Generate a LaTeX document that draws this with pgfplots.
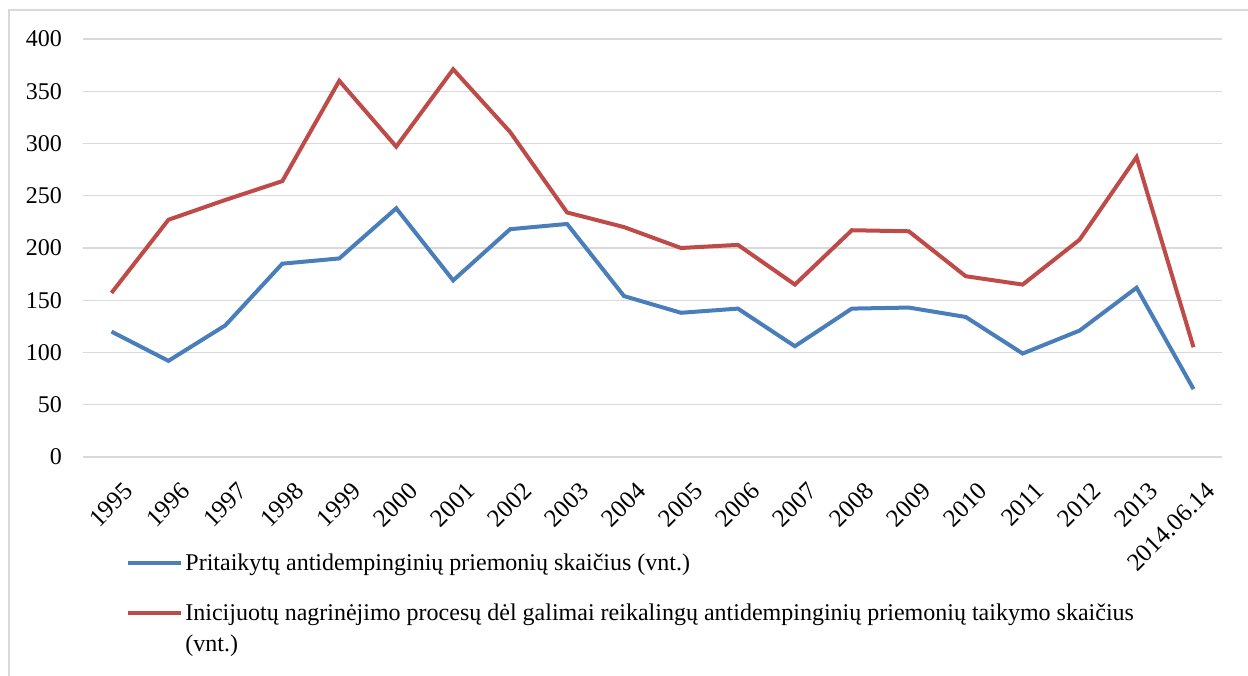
\documentclass[border=0pt]{standalone}
\usepackage{fontspec}
\setmainfont{Liberation Serif}
\usepackage{pgfplots}
\pgfplotsset{compat=1.18}
\definecolor{cblue}{HTML}{4A7EBB}
\definecolor{cred}{HTML}{BE4B48}
\definecolor{cgrid}{HTML}{D9D9D9}
\begin{document}
\begin{tikzpicture}
\useasboundingbox (0,0) rectangle (624pt,337.5pt);
\draw[cgrid, line width=0.8pt] (4.5pt,-2pt) -- (4.5pt,332.5pt) -- (626pt,332.5pt);
\begin{axis}[
  at={(41.5pt,109pt)}, anchor=south west,
  scale only axis, width=569.5pt, height=209pt,
  xmin=-0.5, xmax=19.5, ymin=0, ymax=400,
  ytick={0,50,...,400},
  xtick={0,...,19},
  xticklabels={1995,1996,1997,1998,1999,2000,2001,2002,2003,2004,2005,2006,2007,2008,2009,2010,2011,2012,2013,2014.06.14},
  axis line style={draw=none},
  major tick length=0pt,
  ymajorgrids,
  grid style={cgrid, line width=0.6pt},
  /pgf/number format/assume math mode=true,
  yticklabel style={font=\fontsize{12}{14}\selectfont, xshift=-7pt},
  xticklabel style={font=\fontsize{12.5}{15}\selectfont, rotate=45, anchor=north east, xshift=-1pt, yshift=-9pt},
  legend cell align=left,
  legend style={at={(axis description cs:0.0325,-0.212)}, anchor=north west, draw=none, fill=none,
    font=\fontsize{12}{15.2}\selectfont, row sep=9pt,
    nodes={inner xsep=1pt}, cells={anchor=base west}},
  legend image code/.code={\draw[#1] (0pt,4pt) -- (26.5pt,4pt);},
]
\addplot[cblue, line width=2pt] coordinates {
(0,120) (1,92) (2,126) (3,185) (4,190) (5,238) (6,169) (7,218) (8,223) (9,154)
(10,138) (11,142) (12,106) (13,142) (14,143) (15,134) (16,99) (17,121) (18,162) (19,65)};
\addlegendentry{Pritaikytų antidempinginių priemonių skaičius (vnt.)}
\addplot[cred, line width=2pt] coordinates {
(0,157) (1,227) (2,246) (3,264) (4,360) (5,297) (6,371) (7,311) (8,234) (9,220)
(10,200) (11,203) (12,165) (13,217) (14,216) (15,173) (16,165) (17,208) (18,287) (19,105)};
\addlegendentry{\begin{tabular}[t]{@{}l@{}}Inicijuotų nagrinėjimo procesų dėl galimai reikalingų antidempinginių priemonių taikymo skaičius\\(vnt.)\end{tabular}}
\end{axis}
\end{tikzpicture}
\end{document}
